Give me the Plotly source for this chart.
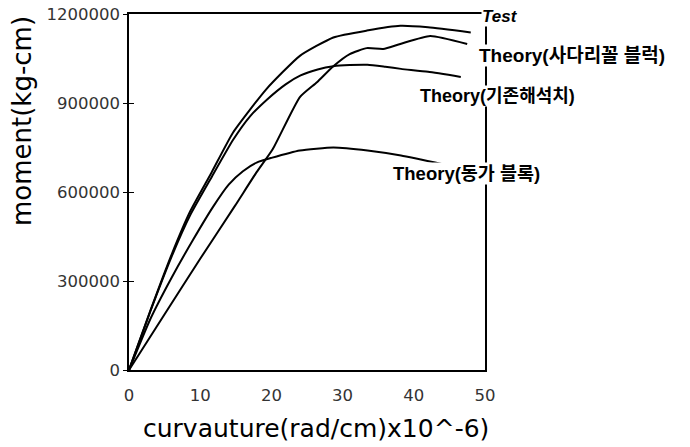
import plotly.graph_objects as go

# Data (curvature x1e-6 rad/cm, moment kg-cm)
test_x = [0, 3, 6, 8.6, 11.6, 14.6, 19.3, 24, 28.7, 33.4, 38.1, 42, 48]
test_y = [0, 200000, 390000, 535000, 666000, 800000, 947000, 1059000, 1121000, 1144000, 1160000, 1155000, 1138000]

trap_x = [0, 5, 10, 14.9, 17.9, 20.2, 24, 26.4, 28.7, 31, 33.4, 35.7, 38.1, 42.3, 47.5]
trap_y = [0, 188000, 375000, 554000, 666000, 745000, 920000, 970000, 1024000, 1065000, 1085000, 1082000, 1099000, 1126000, 1099000]

exist_x = [0, 3, 6, 8.6, 11.6, 14.6, 17, 19.4, 22, 24.1, 26.5, 28.7, 31, 33.5, 36, 38.2, 42, 46.6]
exist_y = [0, 198000, 383000, 522000, 650000, 775000, 855000, 912000, 963000, 993000, 1013000, 1024000, 1028000, 1029000, 1022000, 1015000, 1005000, 988000]

equiv_x = [0, 3, 6, 9, 11.8, 14, 16, 18, 20, 24, 28.7, 33.5, 38.2, 44.2]
equiv_y = [0, 172000, 312000, 439000, 550000, 625000, 670000, 700000, 715000, 740000, 750000, 740000, 723000, 693000]

x_ticks = [0, 10, 20, 30, 40, 50]
y_ticks = [0, 300000, 600000, 900000, 1200000]

labels = ["Test", "Theory(사다리꼴 블럭)", "Theory(기존해석치)", "Theory(동가 블록)"]
label_x = [49.4, 49.0, 40.7, 37.0]
label_y = [1193000, 1061000, 923000, 662000]
label_size = [17, 19, 18, 18.5]

fig = go.Figure()
for xs, ys in [(test_x, test_y), (trap_x, trap_y), (exist_x, exist_y), (equiv_x, equiv_y)]:
    fig.add_trace(go.Scatter(x=xs, y=ys, mode="lines",
                             line=dict(color="black", width=2, shape="spline", smoothing=0.5),
                             showlegend=False, hoverinfo="skip"))

# invisible trace on overlay axis for inside ticks
fig.add_trace(go.Scatter(x=[0], y=[0], mode="markers", marker=dict(opacity=0),
                         yaxis="y2", showlegend=False, hoverinfo="skip"))

tick_font = dict(family="DejaVu Sans", size=16.5, color="#333")
fig.update_layout(
    width=690, height=447,
    margin=dict(l=129, r=205, t=14, b=77),
    paper_bgcolor="white", plot_bgcolor="white",
    xaxis=dict(range=[0, 50], tickvals=x_ticks, ticks="outside", ticklen=9,
               tickcolor="rgba(0,0,0,0)", showgrid=False, zeroline=False,
               showline=True, linecolor="black", linewidth=1.5, mirror=True,
               tickfont=tick_font, automargin=False),
    yaxis=dict(range=[0, 1200000], tickvals=y_ticks, tickformat="d",
               ticks="outside", ticklen=4, tickcolor="black", tickwidth=1.2,
               showgrid=False, zeroline=False, showline=True, linecolor="black",
               linewidth=1.5, mirror=True, tickfont=tick_font, automargin=False),
    yaxis2=dict(range=[0, 1200000], tickvals=y_ticks, overlaying="y", side="left",
                ticks="inside", ticklen=5, tickcolor="black", tickwidth=1.2,
                showticklabels=False, showgrid=False, zeroline=False, showline=False,
                automargin=False),
)

fig.add_annotation(text="moment(kg-cm)", xref="paper", yref="paper",
                   x=-0.30, y=0.70, textangle=-90, showarrow=False,
                   xanchor="center", yanchor="middle",
                   font=dict(family="DejaVu Sans", size=26, color="black"))
fig.add_annotation(text="curvauture(rad/cm)x10^-6)", xref="paper", yref="paper",
                   x=0.525, y=-0.165, showarrow=False, xanchor="center", yanchor="middle",
                   font=dict(family="DejaVu Sans", size=25, color="black"))

for i, (t, lx, ly, sz) in enumerate(zip(labels, label_x, label_y, label_size)):
    txt = "<b><i>%s</i></b>" % t if i == 0 else "<b>%s</b>" % t
    fig.add_annotation(text=txt, x=lx, y=ly, xref="x", yref="y", showarrow=False,
                       xanchor="left", yanchor="middle", bgcolor="white", borderpad=0,
                       font=dict(family="Liberation Sans, Noto Sans CJK KR",
                                 size=sz, color="black"))

fig.write_html("out.html", config={"displayModeBar": False},
               post_script="document.body.style.margin='0';document.body.style.overflow='hidden';")
